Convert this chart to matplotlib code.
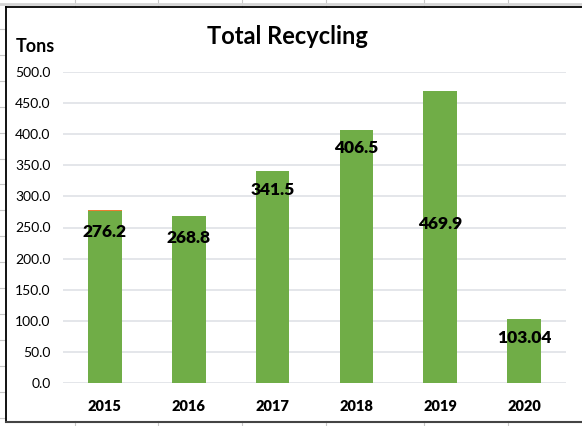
import numpy as np
import matplotlib
matplotlib.use("Agg")
import matplotlib.pyplot as plt
from matplotlib.lines import Line2D

# données
annees = ['2015', '2016', '2017', '2018', '2019', '2020']
recyclage = [276.2, 268.8, 341.5, 406.5, 469.9, 103.04]
autre = [2.0, 0, 0, 0, 0, 0]
etiquettes = ['276.2', '268.8', '341.5', '406.5', '469.9', '103.04']
yticks = [0, 50, 100, 150, 200, 250, 300, 350, 400, 450, 500]

# position verticale des étiquettes (placées à la main dans Excel)
pos_etiquettes = [243, 233, 310, 378, 256, 72]

W, H = 582, 426
fig = plt.figure(figsize=(W / 100, H / 100), dpi=100)
plt.rcParams['font.family'] = ['Lato', 'DejaVu Sans']

def fx(px):
    return px / W

def fy(py):
    return 1 - py / H

# lignes de la feuille de calcul derrière le graphique
gris = '#c8c8c8'
for xv in [75, 158, 242, 326, 424, 508]:
    fig.add_artist(Line2D([fx(xv), fx(xv)], [fy(0), fy(7)], color=gris, lw=0.8))
    fig.add_artist(Line2D([fx(xv), fx(xv)], [fy(421), fy(426)], color=gris, lw=0.8))
for k in range(16):
    yv = 29 + 25.9 * k
    fig.add_artist(Line2D([fx(0), fx(5)], [fy(yv), fy(yv)], color=gris, lw=0.8))
fig.add_artist(Line2D([fx(0), fx(W)], [fy(4), fy(4)], color='#d4d4d4', lw=2))

# cadre du graphique
fig.add_artist(Line2D([fx(5.5), fx(5.5)], [fy(7), fy(421)], color='black', lw=1.3))
fig.add_artist(Line2D([fx(5.5), fx(W)], [fy(7), fy(7)], color='black', lw=1.3))
fig.add_artist(Line2D([fx(5.5), fx(W)], [fy(421.5), fy(421.5)], color='#444444', lw=1.5))

ax = fig.add_axes([fx(63), fy(383), fx(566) - fx(63), fy(72) - fy(383)])
x = np.arange(len(annees))
ax.bar(x, recyclage, width=0.4, color='#70AD47', zorder=2)
ax.bar(x, autre, width=0.4, bottom=recyclage, color='#ED7D31', zorder=2)

for i, txt in enumerate(etiquettes):
    ax.text(x[i], pos_etiquettes[i], txt, ha='center', va='center',
            fontsize=12.5, fontweight='heavy', color='black', zorder=3)

ax.set_xlim(-0.5, len(annees) - 0.5)
ax.set_ylim(0, 500)
ax.set_yticks(yticks)
ax.set_yticklabels([f'{v:.1f}' for v in yticks], fontsize=10)
ax.set_xticks(x)
ax.set_xticklabels(annees, fontsize=10.5, fontweight='heavy')
ax.tick_params(length=0)
ax.tick_params(axis='y', pad=9)
ax.tick_params(axis='x', pad=12)
ax.grid(axis='y', color='#dfe1e6', lw=1.2, zorder=0)
ax.set_axisbelow(True)
for s in ax.spines.values():
    s.set_visible(False)

fig.text(fx(287), fy(37), 'Total Recycling', ha='center', va='center',
         fontsize=17, fontweight='bold')
fig.text(fx(16), fy(46), 'Tons', ha='left', va='center',
         fontsize=13, fontweight='bold')

fig.savefig('out.png', dpi=100)
